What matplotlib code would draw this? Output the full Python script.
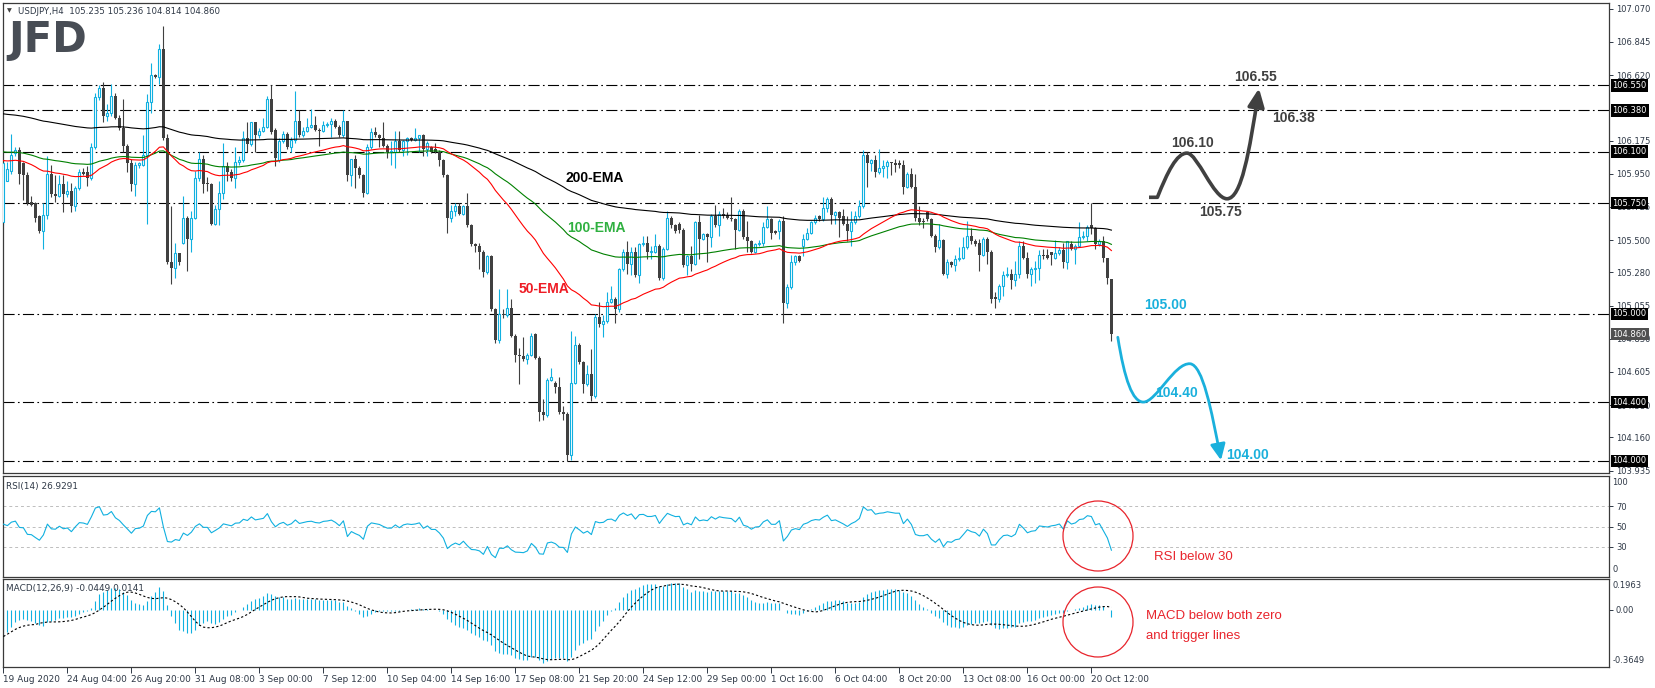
import numpy as np
import pandas as pd
import matplotlib
matplotlib.use("Agg")
import matplotlib.pyplot as plt
from matplotlib.path import Path
from matplotlib.patches import FancyArrowPatch, Ellipse
from matplotlib.transforms import blended_transform_factory

# USDJPY H4 candles
opens = [
    105.625, 105.90, 105.97, 106.09, 106.11, 106.02, 105.94, 105.76, 105.75, 105.66,
    105.56, 105.67, 105.95, 105.81, 105.80, 105.88, 105.81, 105.83, 105.73, 105.85,
    105.96, 105.96, 105.92, 106.13, 106.47, 106.53, 106.34, 106.36, 106.48, 106.33,
    106.26, 106.14, 106.02, 105.88, 106.01, 106.01, 106.08, 106.44, 106.62, 106.61,
    106.80, 106.19, 105.35, 105.31, 105.41, 105.48, 105.65, 105.51, 105.65, 105.92,
    106.05, 105.89, 105.88, 105.61, 105.71, 105.82, 106.00, 105.96, 105.92, 106.03,
    106.04, 106.19, 106.15, 106.30, 106.21, 106.24, 106.27, 106.46, 106.25, 106.04,
    106.17, 106.22, 106.13, 106.18, 106.31, 106.21, 106.24, 106.27, 106.28, 106.25,
    106.24, 106.28, 106.29, 106.31, 106.27, 106.21, 106.31, 105.94, 106.05, 105.99,
    105.94, 105.82, 106.13, 106.23, 106.21, 106.19, 106.14, 106.10, 106.10, 106.17,
    106.11, 106.17, 106.19, 106.18, 106.19, 106.21, 106.12, 106.13, 106.12, 106.10,
    106.04, 105.94, 105.65, 105.70, 105.73, 105.68, 105.73, 105.60, 105.47, 105.46,
    105.42, 105.28, 105.39, 105.03, 104.82, 105.00, 104.99, 105.04, 104.85, 104.72,
    104.71, 104.69, 104.72, 104.86, 104.70, 104.33, 104.31, 104.55, 104.53, 104.50,
    104.33, 104.32, 104.04, 104.53, 104.79, 104.67, 104.52, 104.59, 104.44, 104.98,
    104.93, 104.95, 105.08, 105.10, 105.03, 105.30, 105.42, 105.34, 105.42, 105.26,
    105.47, 105.48, 105.42, 105.42, 105.46, 105.24, 105.44, 105.65, 105.60, 105.61,
    105.57, 105.33, 105.39, 105.34, 105.62, 105.51, 105.54, 105.52, 105.66, 105.60,
    105.68, 105.67, 105.65, 105.64, 105.57, 105.70, 105.52, 105.49, 105.42, 105.47,
    105.48, 105.59, 105.64, 105.56, 105.56, 105.63, 105.07, 105.18, 105.35, 105.39,
    105.46, 105.51, 105.55, 105.62, 105.66, 105.64, 105.72, 105.78, 105.67, 105.69,
    105.66, 105.61, 105.56, 105.62, 105.66, 105.73, 106.08, 106.02, 106.04, 105.96,
    105.99, 106.00, 106.03, 106.02, 106.02, 106.01, 105.86, 105.95, 105.86, 105.65,
    105.63, 105.69, 105.64, 105.53, 105.45, 105.50, 105.27, 105.35, 105.33, 105.37,
    105.38, 105.45, 105.53, 105.49, 105.48, 105.40, 105.51, 105.42, 105.11, 105.10,
    105.19, 105.26, 105.27, 105.23, 105.27, 105.46, 105.38, 105.27, 105.30, 105.31,
    105.40, 105.40, 105.42, 105.38, 105.41, 105.43, 105.35, 105.47, 105.44, 105.46,
    105.52, 105.53, 105.60, 105.58, 105.47, 105.49, 105.38, 105.235,
]
highs = [
    106.04, 106.03, 106.22, 106.13, 106.13, 106.03, 105.96, 105.80, 105.76, 105.67,
    105.75, 106.07, 106.01, 105.94, 105.94, 105.94, 105.90, 105.89, 105.87, 105.98,
    105.99, 106.00, 106.16, 106.50, 106.55, 106.57, 106.42, 106.56, 106.50, 106.35,
    106.46, 106.15, 106.05, 106.03, 106.03, 106.21, 106.49, 106.70, 106.63, 106.83,
    106.95, 106.22, 105.73, 105.48, 105.41, 105.80, 105.66, 105.70, 105.97, 106.10,
    106.08, 105.93, 105.89, 105.74, 105.90, 106.16, 106.03, 105.98, 106.13, 106.07,
    106.24, 106.30, 106.30, 106.30, 106.26, 106.33, 106.48, 106.55, 106.26, 106.19,
    106.24, 106.23, 106.20, 106.51, 106.38, 106.27, 106.33, 106.39, 106.34, 106.26,
    106.31, 106.30, 106.33, 106.32, 106.28, 106.38, 106.31, 106.05, 106.08, 106.00,
    105.95, 106.15, 106.26, 106.27, 106.22, 106.30, 106.15, 106.17, 106.24, 106.24,
    106.18, 106.20, 106.20, 106.26, 106.21, 106.22, 106.17, 106.14, 106.16, 106.11,
    106.05, 105.95, 105.74, 105.75, 105.75, 105.74, 105.82, 105.61, 105.48, 105.48,
    105.43, 105.40, 105.40, 105.04, 105.17, 105.03, 105.17, 105.10, 104.86, 104.77,
    104.84, 104.73, 104.87, 104.87, 104.71, 104.42, 104.56, 104.63, 104.54, 104.57,
    104.37, 104.33, 104.88, 104.85, 104.80, 104.68, 104.65, 104.76, 105.00, 105.08,
    104.99, 105.15, 105.19, 105.11, 105.31, 105.44, 105.49, 105.45, 105.45, 105.48,
    105.53, 105.53, 105.46, 105.54, 105.47, 105.45, 105.70, 105.66, 105.61, 105.62,
    105.58, 105.40, 105.46, 105.63, 105.67, 105.55, 105.55, 105.68, 105.74, 105.70,
    105.72, 105.69, 105.79, 105.65, 105.71, 105.71, 105.63, 105.50, 105.48, 105.50,
    105.62, 105.73, 105.65, 105.57, 105.64, 105.66, 105.20, 105.40, 105.40, 105.40,
    105.54, 105.58, 105.63, 105.67, 105.67, 105.79, 105.79, 105.79, 105.70, 105.70,
    105.71, 105.66, 105.70, 105.70, 105.77, 106.11, 106.10, 106.05, 106.08, 106.12,
    106.04, 106.04, 106.03, 106.05, 106.04, 106.04, 105.96, 105.99, 105.95, 105.73,
    105.65, 105.70, 105.65, 105.54, 105.61, 105.51, 105.37, 105.36, 105.40, 105.45,
    105.52, 105.63, 105.58, 105.51, 105.51, 105.52, 105.52, 105.43, 105.15, 105.20,
    105.29, 105.32, 105.30, 105.36, 105.49, 105.49, 105.42, 105.32, 105.36, 105.43,
    105.44, 105.44, 105.42, 105.50, 105.45, 105.48, 105.49, 105.49, 105.47, 105.62,
    105.56, 105.60, 105.75, 105.59, 105.51, 105.53, 105.38, 105.236,
]
lows = [
    105.60, 105.90, 105.95, 106.07, 105.88, 105.77, 105.74, 105.73, 105.62, 105.55,
    105.44, 105.64, 105.79, 105.76, 105.79, 105.69, 105.79, 105.69, 105.70, 105.84,
    105.94, 105.87, 105.91, 106.12, 106.45, 106.30, 106.31, 106.34, 106.32, 106.25,
    106.10, 105.96, 105.83, 105.80, 105.99, 106.00, 105.61, 106.36, 106.60, 106.56,
    106.18, 105.34, 105.20, 105.24, 105.33, 105.47, 105.29, 105.42, 105.64, 105.90,
    105.82, 105.83, 105.60, 105.60, 105.60, 105.78, 105.90, 105.90, 105.85, 106.01,
    106.03, 106.10, 106.14, 106.10, 106.19, 106.23, 106.26, 106.22, 106.00, 106.03,
    106.16, 106.12, 106.10, 106.16, 106.20, 106.20, 106.23, 106.26, 106.24, 106.14,
    106.23, 106.27, 106.20, 106.26, 106.20, 106.20, 105.90, 105.87, 105.85, 105.92,
    105.79, 105.81, 106.12, 106.20, 106.13, 106.13, 106.06, 106.01, 105.99, 106.10,
    106.07, 106.08, 106.17, 106.17, 106.10, 106.07, 106.07, 106.09, 106.09, 106.00,
    105.93, 105.55, 105.62, 105.66, 105.67, 105.67, 105.59, 105.46, 105.42, 105.30,
    105.25, 105.27, 105.02, 104.80, 104.80, 104.97, 104.98, 104.84, 104.67, 104.52,
    104.68, 104.66, 104.71, 104.69, 104.27, 104.28, 104.30, 104.54, 104.46, 104.32,
    104.28, 104.00, 104.01, 104.52, 104.66, 104.46, 104.51, 104.41, 104.43, 104.91,
    104.84, 104.94, 105.07, 104.94, 105.01, 105.29, 105.27, 105.26, 105.25, 105.21,
    105.46, 105.37, 105.37, 105.41, 105.23, 105.23, 105.43, 105.58, 105.55, 105.55,
    105.32, 105.26, 105.29, 105.33, 105.37, 105.50, 105.35, 105.45, 105.59, 105.53,
    105.65, 105.64, 105.63, 105.44, 105.56, 105.51, 105.42, 105.41, 105.41, 105.46,
    105.46, 105.58, 105.51, 105.54, 105.51, 104.94, 105.04, 105.17, 105.33, 105.35,
    105.39, 105.50, 105.54, 105.61, 105.63, 105.63, 105.69, 105.61, 105.61, 105.52,
    105.60, 105.49, 105.46, 105.61, 105.65, 105.72, 105.86, 105.97, 105.93, 105.95,
    105.93, 105.92, 105.94, 105.96, 105.99, 105.81, 105.85, 105.85, 105.63, 105.60,
    105.58, 105.63, 105.52, 105.42, 105.44, 105.26, 105.24, 105.32, 105.29, 105.36,
    105.37, 105.44, 105.47, 105.46, 105.29, 105.39, 105.34, 105.07, 105.04, 105.08,
    105.12, 105.25, 105.17, 105.19, 105.24, 105.37, 105.24, 105.19, 105.21, 105.23,
    105.37, 105.37, 105.33, 105.37, 105.40, 105.31, 105.30, 105.43, 105.34, 105.45,
    105.51, 105.49, 105.54, 105.44, 105.46, 105.35, 105.20, 104.814,
]
closes = [
    106.02, 105.98, 106.08, 106.11, 105.95, 105.94, 105.75, 105.74, 105.65, 105.56,
    105.67, 105.95, 105.81, 105.80, 105.88, 105.81, 105.83, 105.73, 105.85, 105.96,
    105.95, 105.92, 106.13, 106.47, 106.53, 106.34, 106.36, 106.48, 106.33, 106.26,
    106.14, 106.02, 105.88, 106.01, 106.02, 106.08, 106.44, 106.62, 106.61, 106.80,
    106.19, 105.35, 105.31, 105.41, 105.35, 105.65, 105.51, 105.65, 105.92, 106.05,
    105.88, 105.88, 105.61, 105.71, 105.82, 106.00, 105.96, 105.92, 106.03, 106.04,
    106.19, 106.15, 106.30, 106.21, 106.24, 106.27, 106.46, 106.23, 106.06, 106.17,
    106.22, 106.13, 106.18, 106.31, 106.21, 106.24, 106.27, 106.28, 106.25, 106.24,
    106.28, 106.29, 106.31, 106.27, 106.21, 106.31, 105.94, 106.05, 105.99, 105.94,
    105.82, 106.13, 106.23, 106.21, 106.19, 106.14, 106.10, 106.10, 106.17, 106.11,
    106.17, 106.19, 106.18, 106.19, 106.21, 106.12, 106.16, 106.10, 106.10, 106.04,
    105.94, 105.65, 105.70, 105.73, 105.68, 105.73, 105.60, 105.47, 105.46, 105.42,
    105.28, 105.39, 105.03, 104.82, 105.00, 104.99, 105.04, 104.85, 104.72, 104.71,
    104.69, 104.72, 104.85, 104.70, 104.33, 104.31, 104.55, 104.57, 104.50, 104.33,
    104.32, 104.04, 104.53, 104.79, 104.67, 104.52, 104.59, 104.44, 104.98, 104.93,
    104.95, 105.08, 105.10, 105.03, 105.30, 105.42, 105.34, 105.42, 105.26, 105.47,
    105.48, 105.42, 105.42, 105.46, 105.24, 105.44, 105.65, 105.60, 105.56, 105.57,
    105.33, 105.39, 105.34, 105.62, 105.51, 105.54, 105.52, 105.66, 105.60, 105.68,
    105.66, 105.65, 105.64, 105.57, 105.70, 105.52, 105.49, 105.42, 105.47, 105.48,
    105.59, 105.64, 105.55, 105.55, 105.63, 105.07, 105.18, 105.35, 105.39, 105.36,
    105.51, 105.55, 105.62, 105.65, 105.64, 105.72, 105.78, 105.67, 105.69, 105.65,
    105.61, 105.56, 105.62, 105.66, 105.73, 106.08, 106.02, 106.04, 105.96, 105.99,
    106.00, 106.03, 106.02, 106.01, 106.01, 105.86, 105.95, 105.86, 105.65, 105.62,
    105.62, 105.64, 105.53, 105.45, 105.50, 105.27, 105.35, 105.33, 105.37, 105.38,
    105.45, 105.53, 105.49, 105.47, 105.40, 105.51, 105.42, 105.10, 105.10, 105.19,
    105.26, 105.27, 105.23, 105.27, 105.46, 105.38, 105.27, 105.30, 105.31, 105.40,
    105.39, 105.38, 105.40, 105.41, 105.43, 105.35, 105.49, 105.44, 105.46, 105.52,
    105.53, 105.59, 105.58, 105.47, 105.49, 105.38, 105.24, 104.86,
]

# indicator start values (history before the first visible bar)
ema_seeds = {50: 106.04, 100: 106.10, 200: 106.36}
macd_seeds = (105.72, 105.93)
rsi_seeds = (0.03, 0.055)

levels = [106.55, 106.38, 106.10, 105.75, 105.00, 104.40, 104.00]
last_price = 104.86
price_ticks = [107.070, 106.845, 106.620, 106.175, 105.950, 105.725, 105.500,
               105.280, 105.055, 104.830, 104.605, 104.380, 104.160, 103.935]
tick_bars = list(range(0, 273, 16))
tick_labels = ["19 Aug 2020", "24 Aug 04:00", "26 Aug 20:00", "31 Aug 08:00", "3 Sep 00:00",
               "7 Sep 12:00", "10 Sep 04:00", "14 Sep 16:00", "17 Sep 08:00", "21 Sep 20:00",
               "24 Sep 12:00", "29 Sep 00:00", "1 Oct 16:00", "6 Oct 04:00", "8 Oct 20:00",
               "13 Oct 08:00", "16 Oct 00:00", "20 Oct 12:00"]

o = np.array(opens); h = np.array(highs); l = np.array(lows); c = np.array(closes)
assert len(o) == len(h) == len(l) == len(c)
n = len(c)
x = np.arange(n)


def ema(vals, period, seed):
    k = 2.0 / (period + 1)
    out, prev = [], seed
    for v in vals:
        prev = prev + k * (v - prev)
        out.append(prev)
    return np.array(out)


def wilder_rsi(vals, first, period, g0, l0):
    ag, al, prev, out = g0, l0, first, []
    for v in vals:
        d = v - prev
        prev = v
        ag = (ag * (period - 1) + max(d, 0)) / period
        al = (al * (period - 1) + max(-d, 0)) / period
        out.append(100 - 100 / (1 + ag / al))
    return np.array(out)


rsi = wilder_rsi(c, o[0], 14, *rsi_seeds)
macd = ema(c, 12, macd_seeds[0]) - ema(c, 26, macd_seeds[1])
signal = pd.Series(macd).rolling(9, min_periods=1).mean().values

BLUE = "#10b0e0"
DARK = "#404040"
AXC = "#2e3846"
SMALL = "DejaVu Sans"
W, H = 1655, 688
plt.rcParams["font.family"] = ["Liberation Sans", "DejaVu Sans"]

fig = plt.figure(figsize=(W / 100, H / 100), dpi=100)


def panel(top, bottom):
    a = fig.add_axes([3 / W, 1 - bottom / H, (1609 - 3) / W, (bottom - top) / H])
    a.set_xlim(-0.1, 401.4)
    for s in a.spines.values():
        s.set_color("#3a3a3a")
        s.set_linewidth(0.9)
    a.yaxis.tick_right()
    a.tick_params(axis="y", direction="out", length=3, width=0.7, labelsize=6.0,
                  colors=AXC, pad=2, labelfontfamily=SMALL)
    a.tick_params(axis="x", bottom=False, labelbottom=False)
    return a


ax = panel(3, 473)
ax_rsi = panel(476, 577)
ax_macd = panel(579, 667)

# price panel
ax.set_ylim(103.9185, 107.109)
for lv in levels:
    ax.axhline(lv, color="black", lw=0.8, ls=(0, (10, 3, 1.5, 3)), zorder=1)

up = c >= o
ax.vlines(x[up], l[up], h[up], color=BLUE, lw=0.8, zorder=2)
ax.vlines(x[~up], l[~up], h[~up], color=DARK, lw=0.8, zorder=2)
ax.bar(x[up], np.maximum(c - o, 0.004)[up], bottom=o[up], width=0.5,
       facecolor="white", edgecolor=BLUE, lw=0.8, zorder=3)
ax.bar(x[~up], np.maximum(o - c, 0.006)[~up], bottom=c[~up], width=0.75,
       color=DARK, lw=0, zorder=3)

ax.plot(x, ema(c, 200, ema_seeds[200]), color="black", lw=0.8, zorder=4)
ax.plot(x, ema(c, 100, ema_seeds[100]), color="#008000", lw=0.8, zorder=4)
ax.plot(x, ema(c, 50, ema_seeds[50]), color="#ff0000", lw=0.8, zorder=4)

ax.set_yticks(price_ticks)
ax.set_yticklabels([f"{v:.3f}" for v in price_ticks])
yt = blended_transform_factory(ax.transAxes, ax.transData)
for lv in levels + [last_price]:
    ax.text(1.0022, lv, f"{lv:.3f}", transform=yt, color="white", fontsize=6.0,
            family=SMALL, va="center", ha="left", zorder=10, clip_on=False,
            bbox=dict(boxstyle="square,pad=0.2",
                      fc="#505050" if lv == last_price else "black", ec="none"))

bold = dict(fontsize=10, fontweight="bold", va="center")
ax.text(140.4, 105.92, "200-EMA", color="black", ha="left", **bold)
ax.text(141.0, 105.58, "100-EMA", color="#2fb040", ha="left", **bold)
ax.text(128.7, 105.17, "50-EMA", color="#ee1c25", ha="left", **bold)
ax.text(313.0, 106.61, "106.55", color="#404040", ha="center", **bold)
ax.text(297.2, 106.16, "106.10", color="#404040", ha="center", **bold)
ax.text(304.2, 105.69, "105.75", color="#404040", ha="center", **bold)
ax.text(317.2, 106.33, "106.38", color="#404040", ha="left", **bold)
ax.text(290.5, 105.06, "105.00", color="#1ab0dc", ha="center", **bold)
ax.text(293.3, 104.46, "104.40", color="#1ab0dc", ha="center", **bold)
ax.text(305.6, 104.04, "104.00", color="#1ab0dc", ha="left", **bold)

# scenario arrows
C4 = Path.CURVE4
gray_path = Path([(286.4, 105.79), (288.5, 105.79),
                  (291.0, 105.96), (293.3, 106.09), (295.9, 106.09),
                  (298.5, 106.09), (302.5, 105.78), (305.9, 105.78),
                  (309.5, 105.78), (311.5, 106.10), (313.9, 106.53)],
                 [Path.MOVETO, Path.LINETO] + [C4] * 9)
ax.add_patch(FancyArrowPatch(path=gray_path, transform=ax.transData,
                             arrowstyle="-|>,head_length=0.55,head_width=0.25",
                             mutation_scale=20, color="#404040", lw=2.6,
                             joinstyle="round", capstyle="butt", zorder=6))
blue_path = Path([(278.6, 104.84),
                  (280.3, 104.55), (282.3, 104.40), (285.0, 104.40),
                  (288.2, 104.40), (292.8, 104.67), (296.7, 104.66),
                  (299.8, 104.65), (302.0, 104.35), (304.4, 104.005)],
                 [Path.MOVETO] + [C4] * 9)
ax.add_patch(FancyArrowPatch(path=blue_path, transform=ax.transData,
                             arrowstyle="-|>,head_length=0.6,head_width=0.28",
                             mutation_scale=16, color="#1ab0dc", lw=2.0,
                             joinstyle="round", zorder=6))

# RSI panel
ax_rsi.set_ylim(0, 100)
for lv in (30, 50, 70):
    ax_rsi.axhline(lv, color="#bdbdbd", lw=0.7, ls=(0, (3, 3)), zorder=1)
ax_rsi.plot(x, rsi, color=BLUE, lw=0.8, zorder=3)
ax_rsi.set_yticks([30, 50, 70])
rt = blended_transform_factory(ax_rsi.transAxes, ax_rsi.transData)
ax_rsi.text(1.0022, 93.4, "100", transform=rt, fontsize=6.0, family=SMALL,
            color=AXC, va="center")
ax_rsi.text(1.0022, 7.9, "0", transform=rt, fontsize=6.0, family=SMALL,
            color=AXC, va="center")

# MACD panel
ax_macd.set_ylim(-0.3649, 0.1963)
ax_macd.vlines(x, 0, macd, color=BLUE, lw=0.8, zorder=2)
ax_macd.plot(x, signal, color="black", lw=0.8, ls=(0, (2, 2)), zorder=3)
ax_macd.set_yticks([0])
ax_macd.set_yticklabels(["0.00"])
mt = blended_transform_factory(ax_macd.transAxes, ax_macd.transData)
ax_macd.text(1.0022, 0.1536, "0.1963", transform=mt, fontsize=6.0, family=SMALL,
             color=AXC, va="center")
ax_macd.text(1.0022, -0.3222, "-0.3649", transform=mt, fontsize=6.0, family=SMALL,
             color=AXC, va="center")
ax_macd.set_xticks(tick_bars)
ax_macd.set_xticklabels(tick_labels, ha="left", family=SMALL)
ax_macd.tick_params(axis="x", bottom=True, labelbottom=True, direction="out",
                    length=4, width=0.7, labelsize=6.4, colors=AXC, pad=2)


def ftext(px, py, s, **kw):
    fig.text(px / W, 1 - py / H, s, **kw)


ftext(7, 11, "\u25bc", fontsize=4.5, color="#404040", va="center", family=SMALL)
ftext(18, 11, "USDJPY,H4  105.235 105.236 104.814 104.860", fontsize=6.2,
      color="#2e3846", va="center", family=SMALL)
ftext(8, 19, "JFD", fontsize=30, fontweight="bold", color="#484d55", va="top",
      family="DejaVu Sans")
ftext(6, 486, "RSI(14) 26.9291", fontsize=6.4, color="#2e3846", va="center", family=SMALL)
ftext(6, 589, "MACD(12,26,9) -0.0449 0.0141", fontsize=6.4, color="#2e3846",
      va="center", family=SMALL)

RED = "#e8242c"
for cy in (536, 622):
    fig.add_artist(Ellipse((1098 / W, 1 - cy / H), 70 / W, 70 / H,
                           transform=fig.transFigure, fill=False, ec=RED, lw=0.9))
ftext(1154, 557, "RSI below 30", fontsize=9.5, color=RED, va="center")
ftext(1146, 616, "MACD below both zero", fontsize=9.5, color=RED, va="center")
ftext(1146, 636, "and trigger lines", fontsize=9.5, color=RED, va="center")

fig.savefig("out.png", dpi=100, facecolor="white")
